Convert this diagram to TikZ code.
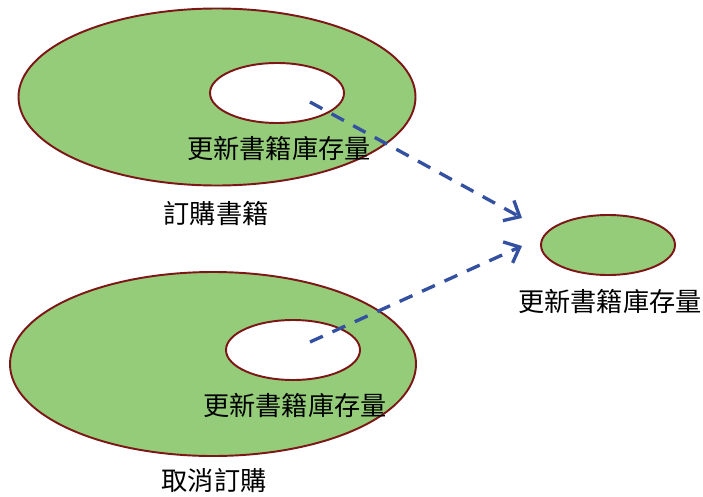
\documentclass[tikz,border=0pt]{standalone}
\usepackage{fontspec}
\usepackage{tikz}
\usetikzlibrary{shapes.geometric,arrows.meta}
\newfontfamily\cjk{Noto Sans CJK TC}
\definecolor{ringgreen}{RGB}{148,204,122}
\definecolor{ringred}{RGB}{125,22,22}
\definecolor{arrowblue}{RGB}{52,80,160}

\tikzset{
  ring/.style={ellipse,draw=ringred,fill=ringgreen,line width=1.1pt,inner sep=0pt},
  hole/.style={ellipse,draw=ringred,fill=white,line width=1.1pt,inner sep=0pt,
    minimum width=2.68cm,minimum height=1.2cm},
  label/.style={font=\cjk\fontsize{14.9pt}{17pt}\selectfont,inner sep=0pt},
  flow/.style={draw=arrowblue,line width=1.9pt,dash pattern=on 8pt off 6pt,
    -{Straight Barb[length=2.6mm,width=4.6mm,line width=1.9pt]}}
}

\begin{document}
\begin{tikzpicture}
\useasboundingbox (0,0) rectangle (14.06,9.92);

\node[ring,minimum width=7.94cm,minimum height=3.54cm] (order) at (4.34,7.98) {};
\node[hole] (orderhole) at (5.54,8.06) {};
\node[ring,minimum width=8.12cm,minimum height=3.68cm] (cancel) at (4.26,2.64) {};
\node[hole] (cancelhole) at (5.86,2.92) {};
\node[ring,minimum width=2.68cm,minimum height=1.2cm] (stock) at (12.16,5.02) {};

\node[label] (ordertext) at (5.58,6.96) {更新書籍庫存量};
\node[label] (orderlabel) at (4.32,5.66) {訂購書籍};
\node[label] (canceltext) at (5.9,1.82) {更新書籍庫存量};
\node[label] (cancellabel) at (4.28,0.3) {取消訂購};
\node[label] (stocklabel) at (12.2,3.9) {更新書籍庫存量};

\coordinate (orderfrom) at (6.2,7.88);
\coordinate (cancelfrom) at (6.2,3.08);
\coordinate (stockin1) at (10.44,5.56);
\coordinate (stockin2) at (10.44,5.0);

\draw[flow] (orderfrom) -- (stockin1);
\draw[flow] (cancelfrom) -- (stockin2);
\end{tikzpicture}
\end{document}
